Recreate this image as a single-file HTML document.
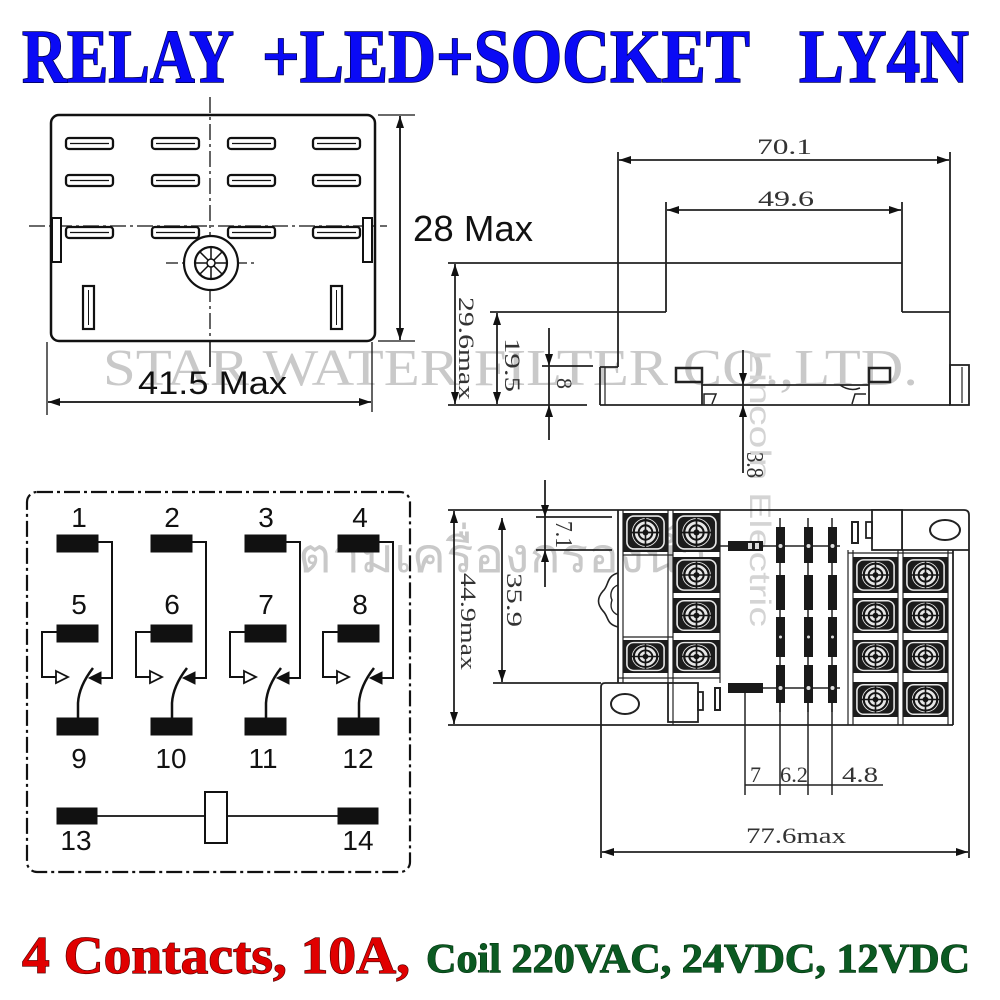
<!DOCTYPE html>
<html><head><meta charset="utf-8"><style>
html,body{margin:0;padding:0;background:#fff;}
svg{display:block;}
</style></head><body>
<svg width="1000" height="1000" viewBox="0 0 1000 1000" xmlns="http://www.w3.org/2000/svg">
<defs>
<marker id="a" viewBox="0 0 12 8" refX="12" refY="4" markerWidth="12" markerHeight="8" markerUnits="userSpaceOnUse" orient="auto-start-reverse"><path d="M0,0 L12,4 L0,8 z" fill="#111"/></marker>
<symbol id="cell" viewBox="0 0 46 38" preserveAspectRatio="none">
<rect x="0" y="0" width="46" height="38" fill="#1c1c1c"/>
<rect x="4" y="3" width="38" height="32" rx="7" fill="none" stroke="#e8e8e8" stroke-width="1.6"/>
<circle cx="23" cy="19" r="14" fill="#e8e8e8"/>
<circle cx="23" cy="19" r="12" fill="none" stroke="#151515" stroke-width="2.2"/>
<circle cx="23" cy="19" r="7" fill="none" stroke="#151515" stroke-width="2"/>
<circle cx="23" cy="19" r="3" fill="#151515"/>
<line x1="23" y1="4" x2="23" y2="34" stroke="#151515" stroke-width="1.6"/>
<line x1="8" y1="19" x2="38" y2="19" stroke="#151515" stroke-width="1.6"/>
</symbol>
<g id="col" stroke="#111">
<rect x="57" y="535" width="41" height="17" fill="#111"/>
<rect x="57" y="625" width="41" height="17" fill="#111"/>
<rect x="57" y="718" width="41" height="17" fill="#111"/>
<polyline points="98,542 112,542 112,678 100,678" fill="none" stroke-width="2"/>
<polygon points="89,678 101,672 101,684" fill="#111" stroke-width="1"/>
<polyline points="57,632 42,632 42,677 56,677" fill="none" stroke-width="2"/>
<polygon points="56,671 68,677 56,683" fill="#fff" stroke-width="1.8"/>
<path d="M78,718 V703 Q79,686 93,668" fill="none" stroke-width="2.5"/>
</g>
</defs>

<!-- watermarks -->
<text x="103" y="385" font-family="Liberation Serif, serif" font-size="52" fill="#c9c9c9" textLength="815" lengthAdjust="spacingAndGlyphs">STAR WATER FILTER CO.,LTD.</text>
<text x="298" y="572" font-family="Liberation Sans, 'Noto Sans CJK SC', sans-serif" font-size="48" fill="#c9c9c9" textLength="410" lengthAdjust="spacingAndGlyphs">ตามเครื่องกรองน้ำ</text>
<text transform="translate(750,350) rotate(90)" font-family="Liberation Sans, sans-serif" font-size="30" fill="#d4d4d4" textLength="277" lengthAdjust="spacingAndGlyphs">Lincoln Electric</text>

<!-- Title -->
<g font-family="Liberation Serif, serif" font-weight="bold" font-size="76" fill="#0a0af5" stroke="#00004a" stroke-width="1.6" style="paint-order:stroke">
<text x="22" y="82" textLength="212" lengthAdjust="spacingAndGlyphs">RELAY</text>
<text x="262" y="82" textLength="488" lengthAdjust="spacingAndGlyphs">+LED+SOCKET</text>
<text x="799" y="82" textLength="170" lengthAdjust="spacingAndGlyphs">LY4N</text>
</g>

<!-- Bottom text -->
<text x="22" y="973" font-family="Liberation Serif, serif" font-weight="bold" font-size="53" fill="#e00000" stroke="#4a0000" stroke-width="1.2" style="paint-order:stroke" textLength="388" lengthAdjust="spacingAndGlyphs">4 Contacts, 10A,</text>
<text x="426" y="972" font-family="Liberation Serif, serif" font-weight="bold" font-size="41" fill="#0b5a22" stroke="#002a0a" stroke-width="1" style="paint-order:stroke" textLength="544" lengthAdjust="spacingAndGlyphs">Coil 220VAC, 24VDC, 12VDC</text>

<!-- ===== Top-left relay ===== -->
<g stroke="#111" fill="none">
<line x1="210" y1="97" x2="210" y2="341" stroke-width="1.3" stroke-dasharray="16 4 3 4"/>
<line x1="210" y1="341" x2="210" y2="367" stroke-width="1.5"/>
<line x1="29" y1="226" x2="387" y2="226" stroke-width="1.3" stroke-dasharray="16 4 3 4"/>
<rect x="51" y="115" width="324" height="226" rx="8" stroke-width="2.5"/>
<g stroke-width="2.3">
<rect x="66" y="138" width="47" height="11" rx="3" fill="#fff"/><rect x="152" y="138" width="47" height="11" rx="3" fill="#fff"/><rect x="228" y="138" width="47" height="11" rx="3" fill="#fff"/><rect x="313" y="138" width="47" height="11" rx="3" fill="#fff"/>
<rect x="66" y="175" width="47" height="11" rx="3" fill="#fff"/><rect x="152" y="175" width="47" height="11" rx="3" fill="#fff"/><rect x="228" y="175" width="47" height="11" rx="3" fill="#fff"/><rect x="313" y="175" width="47" height="11" rx="3" fill="#fff"/>
<rect x="66" y="227" width="47" height="11" rx="3" fill="#fff"/><rect x="152" y="227" width="47" height="11" rx="3" fill="#fff"/><rect x="228" y="227" width="47" height="11" rx="3" fill="#fff"/><rect x="313" y="227" width="47" height="11" rx="3" fill="#fff"/>
</g>
<g stroke-width="1.2">
<line x1="70" y1="143.5" x2="109" y2="143.5"/><line x1="156" y1="143.5" x2="195" y2="143.5"/><line x1="232" y1="143.5" x2="271" y2="143.5"/><line x1="317" y1="143.5" x2="356" y2="143.5"/>
<line x1="70" y1="180.5" x2="109" y2="180.5"/><line x1="156" y1="180.5" x2="195" y2="180.5"/><line x1="232" y1="180.5" x2="271" y2="180.5"/><line x1="317" y1="180.5" x2="356" y2="180.5"/>
<line x1="70" y1="232.5" x2="109" y2="232.5"/><line x1="156" y1="232.5" x2="195" y2="232.5"/><line x1="232" y1="232.5" x2="271" y2="232.5"/><line x1="317" y1="232.5" x2="356" y2="232.5"/>
</g>
<rect x="52" y="218" width="9" height="44" stroke-width="2" fill="#fff"/>
<rect x="363" y="218" width="9" height="44" stroke-width="2" fill="#fff"/>
<line x1="166" y1="263" x2="257" y2="263" stroke-width="1.2" stroke-dasharray="12 4 3 4"/>
<circle cx="211" cy="263" r="27" stroke-width="2.2" fill="#fff"/>
<circle cx="211" cy="263" r="16" stroke-width="2.2"/>
<g stroke-width="1.5">
<line x1="211" y1="247" x2="211" y2="279"/><line x1="195" y1="263" x2="227" y2="263"/>
<line x1="200" y1="252" x2="222" y2="274"/><line x1="222" y1="252" x2="200" y2="274"/>
</g>
<circle cx="211" cy="263" r="4" stroke-width="1.5" fill="#fff"/>
<rect x="83" y="286" width="11" height="43" stroke-width="2.2" fill="#fff"/><line x1="88.5" y1="290" x2="88.5" y2="325" stroke-width="1"/>
<rect x="331" y="286" width="11" height="43" stroke-width="2.2" fill="#fff"/><line x1="336.5" y1="290" x2="336.5" y2="325" stroke-width="1"/>
<!-- dims -->
<line x1="378" y1="115" x2="415" y2="115" stroke-width="1.3"/>
<line x1="378" y1="341" x2="415" y2="341" stroke-width="1.3"/>
<line x1="400" y1="116" x2="400" y2="340" stroke-width="1.8" marker-start="url(#a)" marker-end="url(#a)"/>
<line x1="47" y1="342" x2="47" y2="415" stroke-width="1.3"/>
<line x1="372" y1="342" x2="372" y2="412" stroke-width="1.3"/>
<line x1="48" y1="402" x2="371" y2="402" stroke-width="1.8" marker-start="url(#a)" marker-end="url(#a)"/>
</g>
<text x="413" y="241" font-family="Liberation Sans, sans-serif" font-size="36" fill="#111" textLength="120" lengthAdjust="spacingAndGlyphs">28 Max</text>
<text x="138" y="394" font-family="Liberation Sans, sans-serif" font-size="32" fill="#111" textLength="149" lengthAdjust="spacingAndGlyphs">41.5 Max</text>

<!-- ===== Top-right side view ===== -->
<g stroke="#222" fill="none" stroke-width="1.8">
<line x1="618" y1="152" x2="618" y2="367"/>
<line x1="950" y1="152" x2="950" y2="405"/>
<line x1="619" y1="160" x2="949" y2="160" marker-start="url(#a)" marker-end="url(#a)"/>
<line x1="666" y1="202" x2="666" y2="312"/>
<line x1="902" y1="202" x2="902" y2="312"/>
<line x1="667" y1="210" x2="901" y2="210" marker-start="url(#a)" marker-end="url(#a)"/>
<line x1="448" y1="263" x2="902" y2="263"/>
<line x1="490" y1="312" x2="666" y2="312"/>
<line x1="902" y1="312" x2="950" y2="312"/>
<line x1="600" y1="367" x2="618" y2="367"/>
<line x1="600" y1="367" x2="600" y2="405"/>
<line x1="605" y1="367" x2="605" y2="405" stroke-width="1.2"/>
<line x1="448" y1="405" x2="587" y2="405"/>
<line x1="600" y1="405" x2="950" y2="405"/>
<rect x="950" y="365" width="19" height="40"/>
<line x1="962" y1="367" x2="962" y2="403" stroke-width="1.2"/>
<line x1="702" y1="385" x2="869" y2="385"/>
<rect x="676" y="368" width="26" height="14" stroke-width="2.5"/>
<rect x="869" y="368" width="21" height="14" stroke-width="2.5"/>
<line x1="702" y1="382" x2="702" y2="405"/>
<line x1="869" y1="382" x2="869" y2="405"/>
<path d="M704,405 V394 H716 L712,404" stroke-width="1.5"/>
<path d="M852,404 L855,394 H866" stroke-width="1.5"/>
<path d="M840,385 Q850,392 860,388" stroke-width="1.5"/>
<!-- dims -->
<line x1="455" y1="264" x2="455" y2="404" marker-start="url(#a)" marker-end="url(#a)"/>
<line x1="497" y1="313" x2="497" y2="404" marker-start="url(#a)" marker-end="url(#a)"/>
<line x1="542" y1="366" x2="593" y2="366"/>
<line x1="549" y1="328" x2="549" y2="366" marker-end="url(#a)"/>
<line x1="549" y1="366" x2="549" y2="405"/>
<line x1="549" y1="440" x2="549" y2="405" marker-end="url(#a)"/>
<line x1="743" y1="350" x2="743" y2="385" marker-end="url(#a)"/>
<line x1="743" y1="385" x2="743" y2="405"/>
<line x1="743" y1="473" x2="743" y2="405" marker-end="url(#a)"/>
</g>
<g font-family="Liberation Serif, serif" font-size="22" fill="#333">
<text x="757" y="154" textLength="55" lengthAdjust="spacingAndGlyphs">70.1</text>
<text x="758" y="206" textLength="56" lengthAdjust="spacingAndGlyphs">49.6</text>
<text transform="translate(459,297) rotate(90)" textLength="103" lengthAdjust="spacingAndGlyphs">29.6max</text>
<text transform="translate(505,338) rotate(90)" textLength="54" lengthAdjust="spacingAndGlyphs">19.5</text>
<text transform="translate(557,378) rotate(90)">8</text>
<text transform="translate(747,452) rotate(90)" font-size="24" textLength="26" lengthAdjust="spacingAndGlyphs">3.8</text>
<text transform="translate(461,573) rotate(90)" textLength="97" lengthAdjust="spacingAndGlyphs">44.9max</text>
<text transform="translate(507,573) rotate(90)" textLength="54" lengthAdjust="spacingAndGlyphs">35.9</text>
<text transform="translate(556,521) rotate(90)" font-size="24" textLength="27" lengthAdjust="spacingAndGlyphs">7.1</text>
<text x="750" y="782">7</text>
<text x="780" y="782" textLength="28" lengthAdjust="spacingAndGlyphs">6.2</text>
<text x="842" y="782" textLength="36" lengthAdjust="spacingAndGlyphs">4.8</text>
<text x="746" y="843" textLength="100" lengthAdjust="spacingAndGlyphs">77.6max</text>
</g>

<!-- ===== Bottom-left schematic ===== -->
<rect x="27" y="492" width="383" height="380" rx="10" fill="none" stroke="#111" stroke-width="2.2" stroke-dasharray="16 4 3 4"/>
<use href="#col"/>
<use href="#col" x="94"/>
<use href="#col" x="188"/>
<use href="#col" x="281"/>
<g stroke="#111">
<rect x="57" y="808" width="40" height="16" fill="#111"/>
<rect x="338" y="808" width="40" height="16" fill="#111"/>
<line x1="97" y1="816" x2="338" y2="816" stroke-width="1.8"/>
<rect x="205" y="792" width="22" height="51" fill="#fff" stroke-width="2"/>
</g>
<g font-family="Liberation Sans, sans-serif" font-size="28" fill="#111" text-anchor="middle">
<text x="79" y="527">1</text><text x="172" y="527">2</text><text x="266" y="527">3</text><text x="360" y="527">4</text>
<text x="79" y="614">5</text><text x="172" y="614">6</text><text x="266" y="614">7</text><text x="360" y="614">8</text>
<text x="79" y="768">9</text><text x="171" y="768">10</text><text x="263" y="768">11</text><text x="358" y="768">12</text>
<text x="76" y="850">13</text><text x="358" y="850">14</text>
</g>

<!-- ===== Bottom-right socket top view ===== -->
<g stroke="#222" fill="none" stroke-width="1.8">
<line x1="448" y1="510" x2="964" y2="510"/>
<path d="M964,510 Q969,510 969,515 V858"/>
<line x1="902" y1="550" x2="969" y2="550"/>
<line x1="902" y1="510" x2="902" y2="550"/>
<ellipse cx="945" cy="530" rx="15" ry="10" stroke-width="2"/>
<rect x="872" y="510" width="30" height="40" fill="#fff"/>
<rect x="866" y="522" width="6" height="16"/>
<rect x="852" y="522" width="6" height="21" stroke-width="2"/>
<line x1="953" y1="550" x2="953" y2="725"/>
<line x1="948" y1="550" x2="948" y2="725" stroke-width="1.2"/>
<line x1="848" y1="550" x2="848" y2="725" stroke-width="1.2"/>
<line x1="853" y1="550" x2="853" y2="725" stroke-width="1.2"/>
<line x1="898" y1="550" x2="898" y2="725" stroke-width="1.2"/>
<line x1="903" y1="550" x2="903" y2="725" stroke-width="1.2"/>
<line x1="848" y1="553" x2="953" y2="553" stroke-width="1.2"/>
<line x1="448" y1="725" x2="953" y2="725"/>
<path d="M668,683 H605 Q601,683 601,687 V858"/>
<ellipse cx="625" cy="704" rx="14" ry="10" stroke-width="2"/>
<rect x="668" y="683" width="30" height="39" fill="#fff"/>
<rect x="698" y="692" width="5" height="18"/>
<rect x="715" y="688" width="5" height="22" stroke-width="2"/>
<line x1="618" y1="510" x2="618" y2="683"/>
<line x1="623" y1="510" x2="623" y2="683" stroke-width="1.2"/>
<line x1="668" y1="510" x2="668" y2="683" stroke-width="1.2"/>
<line x1="673" y1="510" x2="673" y2="725" stroke-width="1.2"/>
<line x1="720" y1="510" x2="720" y2="683" stroke-width="1.2"/>
<line x1="623" y1="555" x2="673" y2="555" stroke-width="1.2"/>
<line x1="623" y1="637" x2="673" y2="637" stroke-width="1.2"/>
<line x1="618" y1="678" x2="720" y2="678" stroke-width="1.2"/>
<path d="M618,573 C606,576 609,586 603,591 C597,598 597,604 603,611 C609,617 606,624 618,627" stroke-width="1.6"/>
<path d="M618,585 C610,588 610,596 612,600 C610,606 611,612 618,615" stroke-width="1.4"/>
<!-- dims -->
<line x1="454" y1="511" x2="454" y2="724" marker-start="url(#a)" marker-end="url(#a)"/>
<line x1="493" y1="683" x2="601" y2="683"/>
<line x1="502" y1="518" x2="502" y2="682" marker-start="url(#a)" marker-end="url(#a)"/>
<line x1="536" y1="517" x2="612" y2="517"/>
<line x1="536" y1="550" x2="612" y2="550"/>
<line x1="545" y1="480" x2="545" y2="517" marker-end="url(#a)"/>
<line x1="545" y1="517" x2="545" y2="550"/>
<line x1="545" y1="587" x2="545" y2="550" marker-end="url(#a)"/>
<line x1="602" y1="852" x2="968" y2="852" marker-start="url(#a)" marker-end="url(#a)"/>
<line x1="745" y1="693" x2="745" y2="795" stroke-width="1.5"/>
<line x1="780" y1="703" x2="780" y2="795" stroke-width="1.5"/>
<line x1="808" y1="703" x2="808" y2="795" stroke-width="1.5"/>
<line x1="832" y1="703" x2="832" y2="795" stroke-width="1.5"/>
<line x1="745" y1="785" x2="883" y2="785" stroke-width="1.5"/>
<!-- components -->
<line x1="780" y1="518" x2="780" y2="712" stroke-width="1.5"/>
<line x1="808" y1="518" x2="808" y2="712" stroke-width="1.5"/>
<line x1="832" y1="518" x2="832" y2="712" stroke-width="1.5"/>
<line x1="720" y1="546" x2="840" y2="546" stroke-width="1.5"/>
<line x1="763" y1="688" x2="840" y2="688" stroke-width="1.5"/>
</g>
<g fill="#1a1a1a">
<rect x="776" y="527" width="9" height="36"/><rect x="804" y="527" width="9" height="36"/><rect x="828" y="527" width="9" height="36"/>
<rect x="776" y="575" width="9" height="35"/><rect x="804" y="575" width="9" height="35"/><rect x="828" y="575" width="9" height="35"/>
<rect x="776" y="617" width="9" height="40"/><rect x="804" y="617" width="9" height="40"/><rect x="828" y="617" width="9" height="40"/>
<rect x="776" y="665" width="9" height="38"/><rect x="804" y="665" width="9" height="38"/><rect x="828" y="665" width="9" height="38"/>
<rect x="728" y="541" width="35" height="10"/>
<rect x="728" y="683" width="35" height="10"/>
</g>
<g fill="#ddd">
<circle cx="780.5" cy="546" r="2"/><circle cx="808.5" cy="546" r="2"/><circle cx="832.5" cy="546" r="2"/>
<circle cx="780.5" cy="637" r="1.5"/><circle cx="808.5" cy="637" r="1.5"/><circle cx="832.5" cy="637" r="1.5"/>
<circle cx="780.5" cy="688" r="2"/><circle cx="808.5" cy="688" r="2"/><circle cx="832.5" cy="688" r="2"/>
<rect x="748" y="543" width="4" height="6"/><rect x="755" y="543" width="4" height="6"/>
</g>
<use href="#cell" x="623" y="513" width="45" height="39"/>
<use href="#cell" x="673" y="513" width="47" height="39"/>
<use href="#cell" x="673" y="557" width="47" height="36"/>
<use href="#cell" x="673" y="598" width="47" height="35"/>
<use href="#cell" x="623" y="640" width="45" height="33"/>
<use href="#cell" x="673" y="640" width="47" height="33"/>
<use href="#cell" x="853" y="557" width="45" height="36"/>
<use href="#cell" x="903" y="557" width="45" height="36"/>
<use href="#cell" x="853" y="598" width="45" height="35"/>
<use href="#cell" x="903" y="598" width="45" height="35"/>
<use href="#cell" x="853" y="640" width="45" height="33"/>
<use href="#cell" x="903" y="640" width="45" height="33"/>
<use href="#cell" x="853" y="682" width="45" height="35"/>
<use href="#cell" x="903" y="682" width="45" height="35"/>
</svg>
</body></html>
